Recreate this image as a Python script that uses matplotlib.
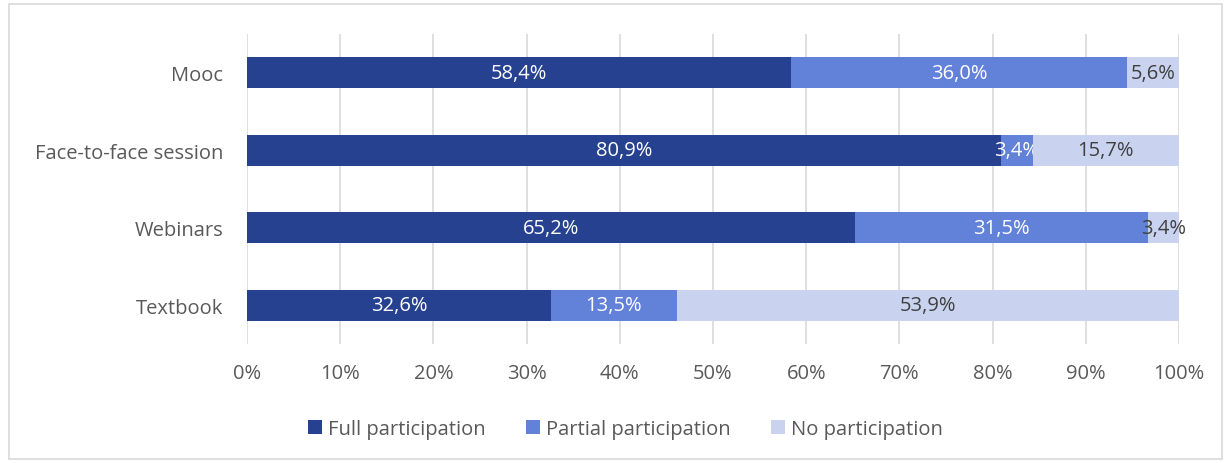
import matplotlib.pyplot as plt
from matplotlib.patches import Rectangle

categories = ['Mooc', 'Face-to-face session', 'Webinars', 'Textbook']
full = [58.4, 80.9, 65.2, 32.6]
partial = [36.0, 3.4, 31.5, 13.5]
none_ = [5.6, 15.7, 3.4, 53.9]
series_names = ['Full participation', 'Partial participation', 'No participation']
colors = ['#264190', '#6281D9', '#C9D3EF']
text_colors = ['white', 'white', '#404040']

plt.rcParams['font.family'] = ['Open Sans', 'DejaVu Sans']
fs = 14.5

fig = plt.figure(figsize=(12.31, 4.64), dpi=100)
ax = fig.add_axes([0.2006, 0.2565, 0.7572, 0.668])

# light grey frame around the whole chart
fig.patches.append(Rectangle((0.007, 0.008), 0.986, 0.982, transform=fig.transFigure,
                             fill=False, edgecolor='#D9D9D9', linewidth=1.2))

y = range(len(categories))
left = [0] * len(categories)
for vals, name, c, tc in zip([full, partial, none_], series_names, colors, text_colors):
    bars = ax.barh(y, vals, left=left, height=0.4, color=c, label=name, zorder=3)
    labels = [f'{v:.1f}%'.replace('.', ',') for v in vals]
    ax.bar_label(bars, labels=labels, label_type='center', color=tc, fontsize=fs)
    left = [l + v for l, v in zip(left, vals)]

ax.set_xlim(0, 100)
ax.set_ylim(3.5, -0.5)
ax.set_xticks(range(0, 101, 10))
ax.set_xticklabels([f'{t}%' for t in range(0, 101, 10)])
ax.set_yticks(list(y))
ax.set_yticklabels(categories)
ax.tick_params(axis='both', length=0, labelsize=fs, colors='#595959')
ax.tick_params(axis='x', pad=14)
ax.tick_params(axis='y', pad=17)
ax.grid(axis='x', color='#D9D9D9', linewidth=1.2, zorder=0)
for s in ax.spines.values():
    s.set_visible(False)

fig.legend(*ax.get_legend_handles_labels(), loc='center',
           bbox_to_anchor=(625.5 / 1231, 1 - 430 / 464), ncol=3, frameon=False,
           fontsize=fs, handlelength=0.7, handleheight=0.7, columnspacing=2.0,
           handletextpad=0.3, labelcolor='#595959')

fig.savefig('out.png', dpi=100)
